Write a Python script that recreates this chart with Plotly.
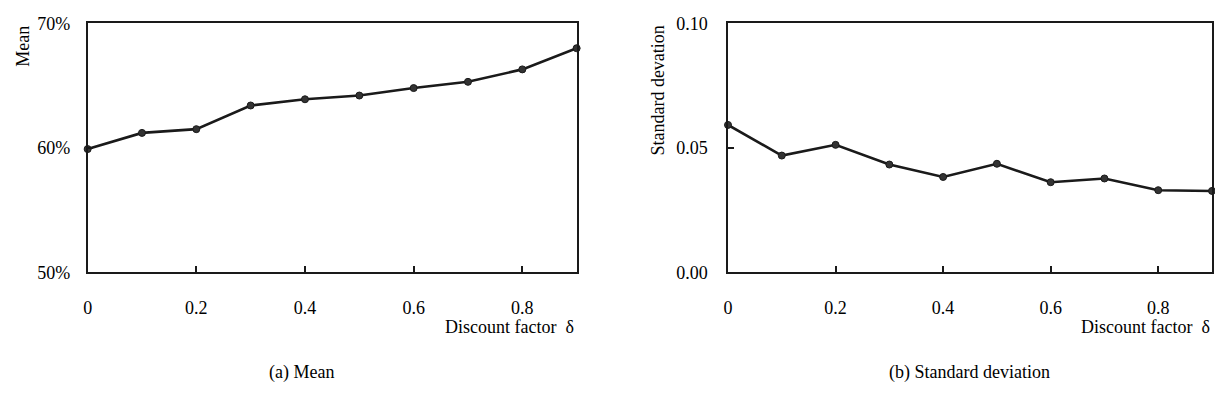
import plotly.graph_objects as go
from plotly.subplots import make_subplots

# Discount factor values and the two summary statistics
delta = [0, 0.1, 0.2, 0.3, 0.4, 0.5, 0.6, 0.7, 0.8, 0.9]
mean_pct = [59.9, 61.2, 61.5, 63.4, 63.9, 64.2, 64.8, 65.3, 66.3, 68.0]
std_dev = [0.0592, 0.0469, 0.0512, 0.0433, 0.0383, 0.0436, 0.0362, 0.0377, 0.0330, 0.0327]

x_tickvals = [0, 0.2, 0.4, 0.6, 0.8]
x_ticktext = ["0", "0.2", "0.4", "0.6", "0.8"]
mean_tickvals = [50, 60, 70]
mean_ticktext = ["50%", "60%", "70%"]
std_tickvals = [0.0, 0.05, 0.10]
std_ticktext = ["0.00", "0.05", "0.10"]

W, H = 1215, 405
FONT = "Liberation Serif, Times New Roman, serif"
INK = "#1a1a1a"

fig = make_subplots(rows=1, cols=2)

line_style = dict(color=INK, width=2.6)
marker_style = dict(color="#333333", size=7, line=dict(color=INK, width=1))

fig.add_trace(go.Scatter(x=delta, y=mean_pct, mode="lines+markers",
                         line=line_style, marker=marker_style,
                         cliponaxis=False, showlegend=False), row=1, col=1)
fig.add_trace(go.Scatter(x=delta, y=std_dev, mode="lines+markers",
                         line=line_style, marker=marker_style,
                         cliponaxis=False, showlegend=False), row=1, col=2)

def px_x(p):
    return p / W

def px_y(p):
    return 1 - p / H

axis_common = dict(showline=True, linecolor=INK, linewidth=1.5, mirror=True,
                   showgrid=False, zeroline=False,
                   tickfont=dict(family=FONT, size=18, color="black"))

y_dom = [px_y(276), px_y(14)]

fig.update_xaxes(**axis_common, range=[0, 0.9], tickvals=x_tickvals, ticktext=x_ticktext,
                 ticks="inside", ticklen=7, tickcolor=INK, tickwidth=1.5,
                 ticklabelstandoff=18)
fig.update_yaxes(**axis_common, ticks="inside", ticklen=6, tickcolor=INK, tickwidth=1.5)

fig.update_xaxes(domain=[px_x(83), px_x(574)], row=1, col=1)
fig.update_xaxes(domain=[px_x(726), px_x(1212)], row=1, col=2)
fig.update_yaxes(domain=y_dom, range=[50, 70], tickvals=mean_tickvals,
                 ticktext=mean_ticktext, ticklabelstandoff=12, row=1, col=1)
fig.update_yaxes(domain=y_dom, range=[0, 0.10], tickvals=std_tickvals,
                 ticktext=std_ticktext, ticklabelstandoff=15, row=1, col=2)

ann_font = dict(family=FONT, size=18, color="black")
annotations = [
    # axis titles
    dict(text="Discount factor  δ", x=px_x(573), y=px_y(321), xanchor="right", yanchor="top"),
    dict(text="Discount factor  δ", x=px_x(1212), y=px_y(321), xanchor="right", yanchor="top"),
    dict(text="Mean", x=px_x(18), y=px_y(14), xanchor="center", yanchor="top", textangle=-90),
    dict(text="Standard devation", x=px_x(656), y=px_y(14), xanchor="center", yanchor="top", textangle=-90),
    # panel captions
    dict(text="(a) Mean", x=px_x(298), y=px_y(381), xanchor="center", yanchor="middle"),
    dict(text="(b) Standard deviation", x=px_x(968), y=px_y(381), xanchor="center", yanchor="middle"),
]
for a in annotations:
    a.update(xref="paper", yref="paper", showarrow=False, font=ann_font)

fig.update_layout(width=W, height=H, margin=dict(l=0, r=0, t=0, b=0),
                  paper_bgcolor="white", plot_bgcolor="white",
                  annotations=annotations, font=dict(family=FONT))

fig.write_html("out.html")
